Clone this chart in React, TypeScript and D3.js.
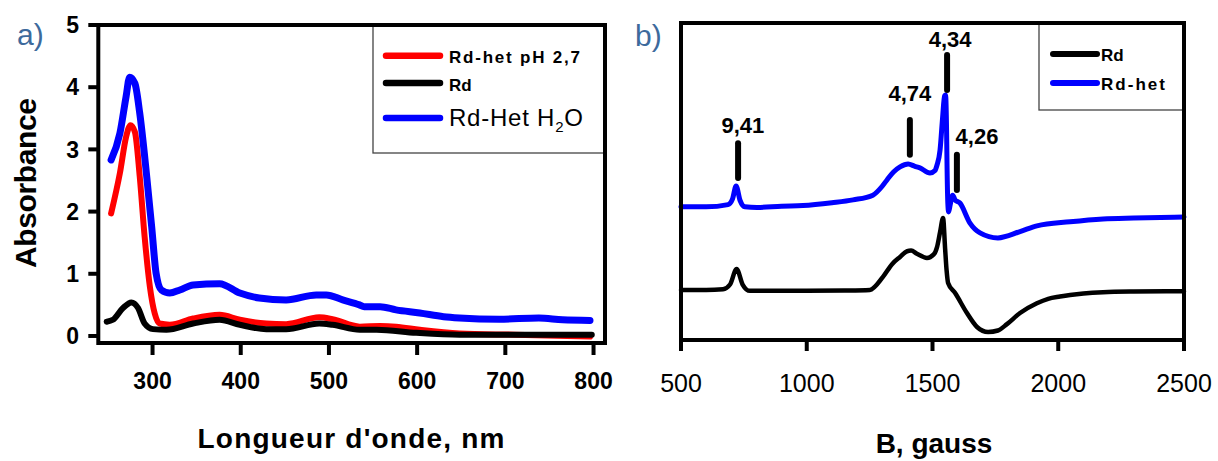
import React from "react";
import * as d3 from "d3";

// ---------- Data ----------
const uvTicksX = [300, 400, 500, 600, 700, 800];
const uvTicksY = [0, 1, 2, 3, 4, 5];
const eprTicksX = [500, 1000, 1500, 2000, 2500];

// UV-vis spectra: [wavelength nm, absorbance]
const uvRdHetPH: [number, number][] = [
  [253, 1.97], [263, 2.62], [270, 3.2], [275, 3.39], [280, 3.28], [285.5, 2.56], [291, 1.6],
  [297, 0.79], [302.5, 0.36], [308, 0.2], [319.5, 0.18], [346, 0.28], [376, 0.34], [399, 0.26],
  [429, 0.2], [451.5, 0.19], [489, 0.3], [504, 0.27], [535, 0.15], [558, 0.16], [576, 0.15],
  [603, 0.1], [648, 0.04], [711, 0.02], [796, -0.01],
];
const uvRd: [number, number][] = [
  [248, 0.23], [255, 0.26], [266.5, 0.45], [276, 0.54], [283.6, 0.45], [291, 0.2], [300.5, 0.11],
  [315.7, 0.1], [346, 0.2], [376, 0.26], [399, 0.18], [429, 0.11], [451.5, 0.11], [489, 0.2],
  [504, 0.18], [535, 0.1], [554, 0.1], [599, 0.05], [648, 0.02], [711, 0.02], [798, 0.02],
];
const uvRdHetH2O: [number, number][] = [
  [253, 2.83], [263, 3.26], [270, 3.85], [274, 4.16], [280, 4.06], [285.5, 3.58], [293, 2.62],
  [299, 1.76], [304, 1.01], [310, 0.74], [319.5, 0.69], [331, 0.74], [346, 0.82], [376, 0.84],
  [399, 0.69], [421, 0.61], [451.5, 0.58], [485.6, 0.66], [497, 0.66], [515.6, 0.58],
  [534.6, 0.5], [540, 0.47], [558, 0.47], [576, 0.42], [603, 0.37], [630, 0.31], [648, 0.29],
  [693, 0.27], [738, 0.29], [765, 0.26], [796, 0.25],
];

// EPR spectra: [field gauss, signal (arbitrary units, offset)]
const eprRd: [number, number][] = [
  [500, 1.58], [600, 1.58], [667, 1.6], [695, 1.75], [721, 2.24], [745, 1.75], [774, 1.55],
  [900, 1.55], [1000, 1.55], [1150, 1.56], [1251, 1.58], [1303, 1.99], [1340, 2.4], [1371, 2.62],
  [1399, 2.8], [1415, 2.82], [1438, 2.72], [1478, 2.59], [1505, 2.7], [1518, 2.93], [1530, 3.4],
  [1542, 3.85], [1550, 2.9], [1556, 2.2], [1562, 1.8], [1590, 1.48], [1637, 0.85], [1677, 0.41],
  [1721, 0.25], [1760, 0.3], [1796, 0.5], [1848, 0.85], [1915, 1.16], [1960, 1.3], [2007, 1.37],
  [2047, 1.42], [2100, 1.47], [2178, 1.51], [2300, 1.53], [2500, 1.54],
];
const eprRdHet: [number, number][] = [
  [500, 4.2], [600, 4.2], [687, 4.27], [705, 4.45], [719, 4.86], [735, 4.4], [754, 4.2],
  [802, 4.18], [900, 4.22], [985, 4.24], [1100, 4.33], [1184, 4.42], [1263, 4.57], [1300, 4.85],
  [1319, 5.05], [1345, 5.3], [1371, 5.46], [1403, 5.55], [1430, 5.48], [1450, 5.43], [1490, 5.27],
  [1510, 5.35], [1518, 5.52], [1530, 5.99], [1540, 7.0], [1548, 7.7], [1552, 7.73], [1556, 6.6],
  [1558, 5.4], [1561, 4.3], [1564, 4.04], [1570, 4.25], [1580, 4.57], [1590, 4.42], [1609, 4.32],
  [1649, 3.69], [1689, 3.38], [1760, 3.22], [1848, 3.42], [1915, 3.6], [2047, 3.73], [2178, 3.82],
  [2300, 3.85], [2500, 3.88],
];

// g-value annotations
const peakLabels = ["9,41", "4,74", "4,34", "4,26"];
const peakBarField = [727, 1410, 1558, 1597];
const peakBarTop = [6.21, 6.94, 8.99, 5.84];
const peakBarBottom = [5.11, 5.84, 7.89, 4.73];
const peakLabelField = [746, 1410, 1570, 1677];
const peakLabelLevel = [6.53, 7.54, 9.24, 6.18];

const uvLegend = ["Rd-het pH 2,7", "Rd", "Rd-Het H"];
const eprLegend = ["Rd", "Rd-het"];

// ---------- Layout ----------
const FONT = "'Liberation Sans', Arial, sans-serif";
const PANEL_LABEL_COLOR = "#3d6a9c";

export default function App() {
  // Panel a scales
  const ax = d3.scaleLinear().domain([238.5, 813]).range([98.3, 605]);
  const ay = d3.scaleLinear().domain([-0.113, 5]).range([343, 25]);
  // Panel b scales
  const bx = d3.scaleLinear().domain([500, 2500]).range([681, 1184]);
  const by = d3.scaleLinear().domain([0, 10]).range([340, 23]);

  const aLine = d3
    .line<[number, number]>()
    .x((d) => ax(d[0]))
    .y((d) => ay(d[1]))
    .curve(d3.curveMonotoneX);
  const bLine = d3
    .line<[number, number]>()
    .x((d) => bx(d[0]))
    .y((d) => by(d[1]))
    .curve(d3.curveMonotoneX);

  const aL = ax.range()[0], aR = ax.range()[1];
  const aT = ay.range()[1], aB = ay.range()[0];
  const bL = bx.range()[0], bR = bx.range()[1];
  const bT = by.range()[1], bB = by.range()[0];

  return (
    <svg
      width={1218}
      height={461}
      style={{ position: "absolute", left: 0, top: 0, background: "#fff" }}
      fontFamily={FONT}
    >
      <rect x={0} y={0} width={1218} height={461} fill="#fff" />

      {/* ---------------- Panel a ---------------- */}
      <text x={17} y={45} fontSize={30} fill={PANEL_LABEL_COLOR}>a)</text>

      {/* curves */}
      <path d={aLine(uvRdHetPH) || ""} fill="none" stroke="#ff0000" strokeWidth={6} strokeLinecap="round" strokeLinejoin="round" />
      <path d={aLine(uvRd) || ""} fill="none" stroke="#000" strokeWidth={6} strokeLinecap="round" strokeLinejoin="round" />
      <path d={aLine(uvRdHetH2O) || ""} fill="none" stroke="#0000ff" strokeWidth={7} strokeLinecap="round" strokeLinejoin="round" />

      {/* legend a */}
      <rect x={373} y={aT} width={aR - 373} height={128} fill="#fff" stroke="#444" strokeWidth={1.3} />
      {[55.7, 83, 118].map((ly, i) => (
        <line key={"la" + i} x1={386} x2={440} y1={ly} y2={ly}
          stroke={["#ff0000", "#000", "#0000ff"][i]} strokeWidth={6.5} strokeLinecap="round" />
      ))}
      <text x={449} y={62.5} fontSize={17} fontWeight="bold" textLength={131} lengthAdjust="spacing">{uvLegend[0]}</text>
      <text x={449} y={90.5} fontSize={17} fontWeight="bold">{uvLegend[1]}</text>
      <text x={449} y={126} fontSize={24} textLength={134} lengthAdjust="spacing">
        {uvLegend[2]}
        <tspan fontSize={15} dy={6}>2</tspan>
        <tspan dy={-6}>O</tspan>
      </text>

      {/* frame */}
      <rect x={aL} y={aT} width={aR - aL} height={aB - aT} fill="none" stroke="#000" strokeWidth={4} />
      {uvTicksX.map((t) => (
        <g key={"ax" + t}>
          <line x1={ax(t)} x2={ax(t)} y1={aB} y2={aB + 12} stroke="#000" strokeWidth={4} />
          <text x={ax(t)} y={388.5} fontSize={23} fontWeight="bold" textAnchor="middle">{t}</text>
        </g>
      ))}
      {uvTicksY.map((t) => (
        <g key={"ay" + t}>
          <line x1={aL - 10} x2={aL} y1={ay(t)} y2={ay(t)} stroke="#000" strokeWidth={4} />
          <text x={79} y={ay(t) + 8.3} fontSize={23} fontWeight="bold" textAnchor="end">{t}</text>
        </g>
      ))}
      <text
        transform={`translate(36,183) rotate(-90)`}
        fontSize={30}
        fontWeight="bold"
        textAnchor="middle"
        textLength={170}
        lengthAdjust="spacing"
      >
        Absorbance
      </text>
      <text x={351} y={448} fontSize={28} fontWeight="bold" textAnchor="middle" textLength={307} lengthAdjust="spacing">
        Longueur d'onde, nm
      </text>

      {/* ---------------- Panel b ---------------- */}
      <text x={635} y={46} fontSize={30} fill={PANEL_LABEL_COLOR}>b)</text>

      <path d={bLine(eprRd) || ""} fill="none" stroke="#000" strokeWidth={4.5} strokeLinecap="round" strokeLinejoin="round" />
      <path d={bLine(eprRdHet) || ""} fill="none" stroke="#0000ff" strokeWidth={5} strokeLinecap="round" strokeLinejoin="round" />

      {peakLabels.map((lab, i) => (
        <g key={"pk" + i}>
          <line x1={bx(peakBarField[i])} x2={bx(peakBarField[i])} y1={by(peakBarTop[i])} y2={by(peakBarBottom[i])}
            stroke="#000" strokeWidth={6} strokeLinecap="round" />
          <text x={bx(peakLabelField[i])} y={by(peakLabelLevel[i])} fontSize={22} fontWeight="bold" textAnchor="middle">{lab}</text>
        </g>
      ))}

      {/* legend b */}
      <rect x={1039} y={bT} width={bR - 1039} height={87} fill="#fff" stroke="#444" strokeWidth={1.3} />
      {[54, 83].map((ly, i) => (
        <line key={"lb" + i} x1={1053} x2={1097} y1={ly} y2={ly}
          stroke={["#000", "#0000ff"][i]} strokeWidth={6} strokeLinecap="round" />
      ))}
      <text x={1101} y={60.5} fontSize={17} fontWeight="bold">{eprLegend[0]}</text>
      <text x={1101} y={89.5} fontSize={17} fontWeight="bold" textLength={64} lengthAdjust="spacing">{eprLegend[1]}</text>

      <rect x={bL} y={bT} width={bR - bL} height={bB - bT} fill="none" stroke="#000" strokeWidth={4} />
      {eprTicksX.map((t) => (
        <g key={"bx" + t}>
          <line x1={bx(t)} x2={bx(t)} y1={bB} y2={bB + 11} stroke="#000" strokeWidth={4} />
          <text x={bx(t)} y={392} fontSize={25} textAnchor="middle">{t}</text>
        </g>
      ))}
      <text x={934} y={453} fontSize={28} fontWeight="bold" textAnchor="middle">B, gauss</text>
    </svg>
  );
}
